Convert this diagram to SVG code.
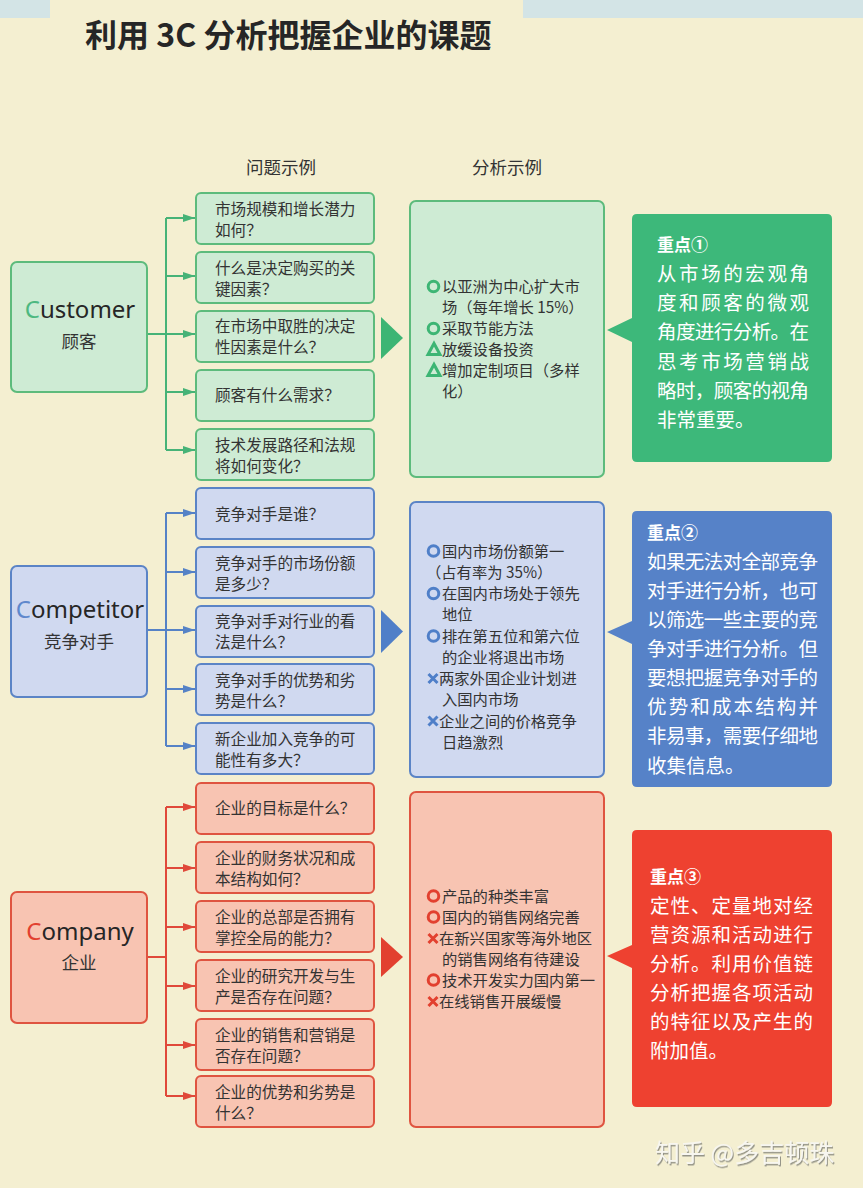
<svg xmlns="http://www.w3.org/2000/svg" width="863" height="1188" viewBox="0 0 863 1188">
<defs>
<style>
text{font-family:"Noto Sans CJK SC","Noto Sans",sans-serif;}
.title{font-size:32px;font-weight:700;fill:#262626}
.hdr{font-size:17.5px;fill:#333;text-anchor:middle}
.q{font-size:15.6px;fill:#333}
.a{font-size:15.3px;fill:#333}
.en{font-family:"Noto Sans","Noto Sans CJK SC",sans-serif;font-size:24px;fill:#262626;text-anchor:middle}
.cn{font-size:17.5px;fill:#333;text-anchor:middle}
.kt{font-size:17px;font-weight:700;fill:#fff}
.kb{font-size:19.5px;fill:#fff}
.wm{font-size:25px;fill:#f7f6f0}
.gbox{fill:#CEEBD4;stroke:#5DBB7C;stroke-width:2}
.bbox{fill:#D0D9F0;stroke:#5B84C6;stroke-width:2}
.rbox{fill:#F8C4B2;stroke:#DF5440;stroke-width:2}
.gl{stroke:#46B377;stroke-width:2;fill:none}
.bl{stroke:#5582C6;stroke-width:2;fill:none}
.rl{stroke:#E0493A;stroke-width:2;fill:none}
.gs{stroke:#3DB574;stroke-width:3;fill:none}
.bs{stroke:#4F7FC8;stroke-width:3;fill:none}
.rs{stroke:#E2402F;stroke-width:3;fill:none}
</style>
<marker id="ag" viewBox="0 0 12 8" refX="12" refY="4" markerWidth="12" markerHeight="8" markerUnits="userSpaceOnUse" orient="auto"><path d="M0,0L12,4L0,8z" fill="#46B377"/></marker>
<marker id="ab" viewBox="0 0 12 8" refX="12" refY="4" markerWidth="12" markerHeight="8" markerUnits="userSpaceOnUse" orient="auto"><path d="M0,0L12,4L0,8z" fill="#5582C6"/></marker>
<marker id="ar" viewBox="0 0 12 8" refX="12" refY="4" markerWidth="12" markerHeight="8" markerUnits="userSpaceOnUse" orient="auto"><path d="M0,0L12,4L0,8z" fill="#E0493A"/></marker>
<filter id="sh" x="-10%" y="-30%" width="120%" height="160%"><feDropShadow dx="1" dy="1.5" stdDeviation="0.6" flood-color="#8a8a80" flood-opacity="0.9"/></filter>
</defs>

<rect x="0" y="0" width="863" height="1188" fill="#F4EFD1"/>
<rect x="0" y="0" width="50" height="18" fill="#D3E4E6"/>
<rect x="523" y="0" width="340" height="18" fill="#D3E4E6"/>

<text class="title" x="85" y="47">利用 3C 分析把握企业的课题</text>
<text class="hdr" x="281" y="174">问题示例</text>
<text class="hdr" x="507" y="174">分析示例</text>

<g id="connectors">
  <path class="gl" d="M166,218V450"/>
  <path class="gl" d="M147,334H195" marker-end="url(#ag)"/>
  <path class="gl" d="M166,218H195" marker-end="url(#ag)"/>
  <path class="gl" d="M166,276H195" marker-end="url(#ag)"/>
  <path class="gl" d="M166,392H195" marker-end="url(#ag)"/>
  <path class="gl" d="M166,450H195" marker-end="url(#ag)"/>
  <polygon points="381,317 381,359 403,338" fill="#3DB574"/>

  <path class="bl" d="M166,513V746"/>
  <path class="bl" d="M147,630H195" marker-end="url(#ab)"/>
  <path class="bl" d="M166,513H195" marker-end="url(#ab)"/>
  <path class="bl" d="M166,572H195" marker-end="url(#ab)"/>
  <path class="bl" d="M166,689H195" marker-end="url(#ab)"/>
  <path class="bl" d="M166,746H195" marker-end="url(#ab)"/>
  <polygon points="381,610 381,653 403,631.5" fill="#4F7FC8"/>

  <path class="rl" d="M166,807V1096"/>
  <path class="rl" d="M147,957H166"/>
  <path class="rl" d="M166,807H195" marker-end="url(#ar)"/>
  <path class="rl" d="M166,868H195" marker-end="url(#ar)"/>
  <path class="rl" d="M166,927H195" marker-end="url(#ar)"/>
  <path class="rl" d="M166,986H195" marker-end="url(#ar)"/>
  <path class="rl" d="M166,1045H195" marker-end="url(#ar)"/>
  <path class="rl" d="M166,1096H195" marker-end="url(#ar)"/>
  <polygon points="381,937 381,977 403,957" fill="#E2402F"/>
</g>

<!-- Customer -->
<g id="customer">
  <rect class="gbox" x="11" y="262" width="136" height="130" rx="6"/>
  <text class="en" x="80" y="318"><tspan fill="#4DB880">C</tspan>ustomer</text>
  <text class="cn" x="79" y="348">顾客</text>
</g>
<g id="q-c1"><rect class="gbox" x="196" y="193" width="178" height="51" rx="5"/><text class="q" x="215" y="214.5">市场规模和增长潜力</text><text class="q" x="215" y="235.5">如何？</text></g>
<g id="q-c2"><rect class="gbox" x="196" y="252" width="178" height="51" rx="5"/><text class="q" x="215" y="273.5">什么是决定购买的关</text><text class="q" x="215" y="294.5">键因素？</text></g>
<g id="q-c3"><rect class="gbox" x="196" y="311" width="178" height="51" rx="5"/><text class="q" x="215" y="332">在市场中取胜的决定</text><text class="q" x="215" y="353">性因素是什么？</text></g>
<g id="q-c4"><rect class="gbox" x="196" y="370" width="178" height="51" rx="5"/><text class="q" x="215" y="401">顾客有什么需求？</text></g>
<g id="q-c5"><rect class="gbox" x="196" y="429" width="178" height="51" rx="5"/><text class="q" x="215" y="450.5">技术发展路径和法规</text><text class="q" x="215" y="471.5">将如何变化？</text></g>

<g id="analysis-customer">
  <rect class="gbox" x="410" y="201" width="194" height="276" rx="6"/>
  <circle class="gs" cx="433.5" cy="286.5" r="5.3"/>
  <text class="a" x="442" y="292">以亚洲为中心扩大市</text>
  <text class="a" x="442" y="313">场（每年增长 15%）</text>
  <circle class="gs" cx="433.5" cy="328.5" r="5.3"/>
  <text class="a" x="442" y="334">采取节能方法</text>
  <polygon class="gs" points="428,354.5 440,354.5 434,343.5"/>
  <text class="a" x="442" y="355">放缓设备投资</text>
  <polygon class="gs" points="428,375.5 440,375.5 434,364.5"/>
  <text class="a" x="442" y="376">增加定制项目（多样</text>
  <text class="a" x="442" y="397">化）</text>
</g>

<g id="key-1">
  <path d="M637,214H827Q832,214 832,219V457Q832,462 827,462H637Q632,462 632,457V342L607,330L632,318V219Q632,214 637,214Z" fill="#3DB87A"/>
  <text class="kt" x="657" y="251">重点①</text>
  <text class="kb" x="657" y="281" textLength="152" lengthAdjust="spacing">从市场的宏观角</text>
  <text class="kb" x="657" y="310" textLength="152" lengthAdjust="spacing">度和顾客的微观</text>
  <text class="kb" x="657" y="339" textLength="152" lengthAdjust="spacing">角度进行分析。在</text>
  <text class="kb" x="657" y="368.5" textLength="152" lengthAdjust="spacing">思考市场营销战</text>
  <text class="kb" x="657" y="397.5" textLength="152" lengthAdjust="spacing">略时，顾客的视角</text>
  <text class="kb" x="657" y="427">非常重要。</text>
</g>

<!-- Competitor -->
<g id="competitor">
  <rect class="bbox" x="11" y="566" width="136" height="131" rx="6"/>
  <text class="en" x="80" y="618"><tspan fill="#5F88CC">C</tspan>ompetitor</text>
  <text class="cn" x="79" y="648">竞争对手</text>
</g>
<g id="q-p1"><rect class="bbox" x="196" y="488" width="178" height="51" rx="5"/><text class="q" x="215" y="519.5">竞争对手是谁？</text></g>
<g id="q-p2"><rect class="bbox" x="196" y="547" width="178" height="51" rx="5"/><text class="q" x="215" y="568.5">竞争对手的市场份额</text><text class="q" x="215" y="589.5">是多少？</text></g>
<g id="q-p3"><rect class="bbox" x="196" y="606" width="178" height="51" rx="5"/><text class="q" x="215" y="627">竞争对手对行业的看</text><text class="q" x="215" y="648">法是什么？</text></g>
<g id="q-p4"><rect class="bbox" x="196" y="664" width="178" height="51" rx="5"/><text class="q" x="215" y="685.5">竞争对手的优势和劣</text><text class="q" x="215" y="706.5">势是什么？</text></g>
<g id="q-p5"><rect class="bbox" x="196" y="723" width="178" height="51" rx="5"/><text class="q" x="215" y="744.5">新企业加入竞争的可</text><text class="q" x="215" y="765.5">能性有多大？</text></g>

<g id="analysis-competitor">
  <rect class="bbox" x="410" y="502" width="194" height="275" rx="6"/>
  <circle class="bs" cx="433.5" cy="551" r="5.3"/>
  <text class="a" x="442" y="556.5">国内市场份额第一</text>
  <text class="a" x="426" y="577.5">（占有率为 35%）</text>
  <circle class="bs" cx="433.5" cy="593.5" r="5.3"/>
  <text class="a" x="442" y="599">在国内市场处于领先</text>
  <text class="a" x="442" y="620">地位</text>
  <circle class="bs" cx="433.5" cy="636" r="5.3"/>
  <text class="a" x="442" y="641.5">排在第五位和第六位</text>
  <text class="a" x="442" y="662.5">的企业将退出市场</text>
  <path class="bs" d="M428.5,674L437.5,683M437.5,674L428.5,683"/>
  <text class="a" x="439" y="684">两家外国企业计划进</text>
  <text class="a" x="442" y="705">入国内市场</text>
  <path class="bs" d="M428.5,716.5L437.5,725.5M437.5,716.5L428.5,725.5"/>
  <text class="a" x="439" y="726.5">企业之间的价格竞争</text>
  <text class="a" x="442" y="747.5">日趋激烈</text>
</g>

<g id="key-2">
  <path d="M637,511H827Q832,511 832,516V782Q832,787 827,787H637Q632,787 632,782V644L607,632L632,621V516Q632,511 637,511Z" fill="#5682C8"/>
  <text class="kt" x="647" y="538.5">重点②</text>
  <text class="kb" x="647" y="569" textLength="171" lengthAdjust="spacing">如果无法对全部竞争</text>
  <text class="kb" x="647" y="598" textLength="171" lengthAdjust="spacing">对手进行分析，也可</text>
  <text class="kb" x="647" y="627" textLength="171" lengthAdjust="spacing">以筛选一些主要的竞</text>
  <text class="kb" x="647" y="656" textLength="171" lengthAdjust="spacing">争对手进行分析。但</text>
  <text class="kb" x="647" y="685" textLength="171" lengthAdjust="spacing">要想把握竞争对手的</text>
  <text class="kb" x="647" y="714" textLength="171" lengthAdjust="spacing">优势和成本结构并</text>
  <text class="kb" x="647" y="743" textLength="171" lengthAdjust="spacing">非易事，需要仔细地</text>
  <text class="kb" x="647" y="773">收集信息。</text>
</g>

<!-- Company -->
<g id="company">
  <rect class="rbox" x="11" y="892" width="136" height="131" rx="6"/>
  <text class="en" x="80" y="940"><tspan fill="#E2402F">C</tspan>ompany</text>
  <text class="cn" x="79" y="969">企业</text>
</g>
<g id="q-m1"><rect class="rbox" x="196" y="783" width="178" height="51" rx="5"/><text class="q" x="215" y="814">企业的目标是什么？</text></g>
<g id="q-m2"><rect class="rbox" x="196" y="842" width="178" height="51" rx="5"/><text class="q" x="215" y="863.5">企业的财务状况和成</text><text class="q" x="215" y="884.5">本结构如何？</text></g>
<g id="q-m3"><rect class="rbox" x="196" y="901" width="178" height="51" rx="5"/><text class="q" x="215" y="922.5">企业的总部是否拥有</text><text class="q" x="215" y="943.5">掌控全局的能力？</text></g>
<g id="q-m4"><rect class="rbox" x="196" y="960" width="178" height="51" rx="5"/><text class="q" x="215" y="981.5">企业的研究开发与生</text><text class="q" x="215" y="1002.5">产是否存在问题？</text></g>
<g id="q-m5"><rect class="rbox" x="196" y="1019" width="178" height="51" rx="5"/><text class="q" x="215" y="1040.5">企业的销售和营销是</text><text class="q" x="215" y="1061.5">否存在问题？</text></g>
<g id="q-m6"><rect class="rbox" x="196" y="1076" width="178" height="51" rx="5"/><text class="q" x="215" y="1097.5">企业的优势和劣势是</text><text class="q" x="215" y="1118.5">什么？</text></g>

<g id="analysis-company">
  <rect class="rbox" x="410" y="792" width="194" height="335" rx="6"/>
  <circle class="rs" cx="433.5" cy="896" r="5.3"/>
  <text class="a" x="442" y="901.5">产品的种类丰富</text>
  <circle class="rs" cx="433.5" cy="917" r="5.3"/>
  <text class="a" x="442" y="922.5">国内的销售网络完善</text>
  <path class="rs" d="M428.5,934L437.5,943M437.5,934L428.5,943"/>
  <text class="a" x="439" y="943.5">在新兴国家等海外地区</text>
  <text class="a" x="442" y="964.5">的销售网络有待建设</text>
  <circle class="rs" cx="433.5" cy="980" r="5.3"/>
  <text class="a" x="442" y="985.5">技术开发实力国内第一</text>
  <path class="rs" d="M428.5,997L437.5,1006M437.5,997L428.5,1006"/>
  <text class="a" x="439" y="1006.5">在线销售开展缓慢</text>
</g>

<g id="key-3">
  <path d="M637,830H827Q832,830 832,835V1102Q832,1107 827,1107H637Q632,1107 632,1102V968L607,956L632,945V835Q632,830 637,830Z" fill="#EE4130"/>
  <text class="kt" x="650" y="882.5">重点③</text>
  <text class="kb" x="650" y="913" textLength="163" lengthAdjust="spacing">定性、定量地对经</text>
  <text class="kb" x="650" y="942" textLength="163" lengthAdjust="spacing">营资源和活动进行</text>
  <text class="kb" x="650" y="971" textLength="163" lengthAdjust="spacing">分析。利用价值链</text>
  <text class="kb" x="650" y="1000" textLength="163" lengthAdjust="spacing">分析把握各项活动</text>
  <text class="kb" x="650" y="1029" textLength="163" lengthAdjust="spacing">的特征以及产生的</text>
  <text class="kb" x="650" y="1058">附加值。</text>
</g>

<text class="wm" x="655" y="1162" filter="url(#sh)">知乎 @多吉顿珠</text>
</svg>
